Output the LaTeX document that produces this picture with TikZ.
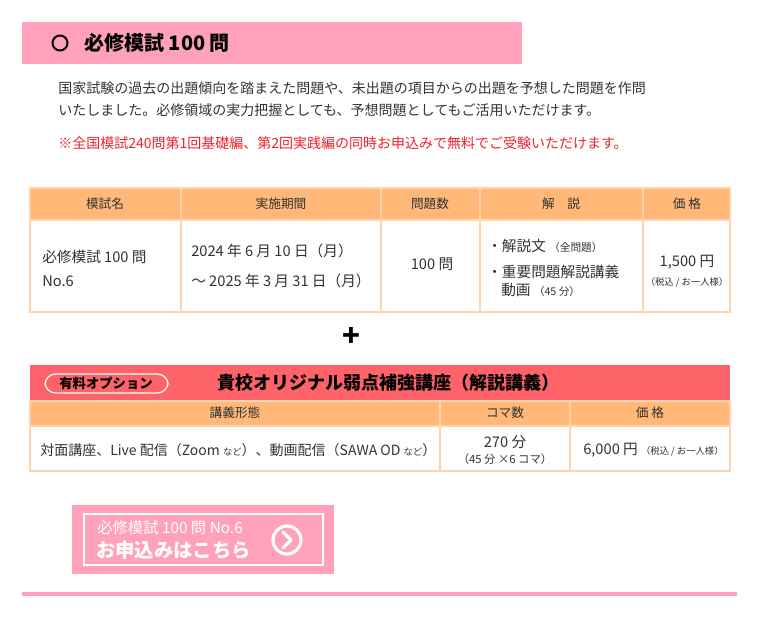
\documentclass[tikz,border=0pt]{standalone}
\usepackage{fontspec}
\setmainfont{Noto Sans CJK JP}
\definecolor{pinkc}{HTML}{FFA1BA}
\definecolor{orng}{HTML}{FFB877}
\definecolor{obord}{HTML}{FFD3AD}
\definecolor{redb}{HTML}{FF636A}
\definecolor{redt}{HTML}{F0202A}
\definecolor{txt}{HTML}{333333}
\tikzset{
 tx/.style={font=\fontsize{10.5}{13}\selectfont, text=txt, inner sep=0pt},
 th/.style={font=\fontsize{9.5}{12}\selectfont, text=txt, inner sep=0pt},
 sm/.style={font=\fontsize{7}{8}\selectfont, text=txt, inner sep=0pt},
 hd/.style={fill=orng, draw=obord, line width=1pt},
 bd/.style={fill=white, draw=obord, line width=1pt},
}
\begin{document}
\begin{tikzpicture}[x=0.75pt,y=-0.75pt]
\useasboundingbox (0,0) rectangle (760,642);
% header
\fill[pinkc] (22,22) rectangle (522,64);
\draw[black, line width=1.5pt] (60,43) circle (7.5);
\node[anchor=west, inner sep=0pt, font=\fontsize{15}{17}\selectfont\bfseries] (ttl) at (84,43) {必修模試 100 問};
\node[tx, anchor=west] (p1) at (58,88) {国家試験の過去の出題傾向を踏まえた問題や、未出題の項目からの出題を予想した問題を作問};
\node[tx, anchor=west] (p2) at (58,110) {いたしました。必修領域の実力把握としても、予想問題としてもご活用いただけます。};
\node[tx, anchor=west, text=redt] (p3) at (58,143) {※全国模試240問第1回基礎編、第2回実践編の同時お申込みで無料でご受験いただけます。};
% table1
\foreach \a/\b in {30/181,181/381,381/480,480/643,643/730}{
 \draw[hd] (\a,188) rectangle (\b,220);
 \draw[bd] (\a,220) rectangle (\b,312);}
\node[th] (h1) at (105,204) {模試名};
\node[th] (h2) at (281,204) {実施期間};
\node[th] (h3) at (430,204) {問題数};
\node[th] (h4) at (561,204) {解\quad 説};
\node[th] (h5) at (687,204) {価\ 格};
\node[tx, anchor=west, align=left, font=\fontsize{11}{18}\selectfont] (c1) at (42,268) {必修模試 100 問\\No.6};
\node[tx, anchor=west, align=left, font=\fontsize{11}{22}\selectfont] (c2) at (191,266) {2024 年 6 月 10 日（月）\\～ 2025 年 3 月 31 日（月）};
\node[tx, font=\fontsize{11}{13}\selectfont] (c3) at (432,264) {100 問};
\node[tx, anchor=west, font=\fontsize{11}{13}\selectfont] (c4a) at (487,246) {・解説文 {\fontsize{8}{9}\selectfont（全問題）}};
\node[tx, anchor=west, font=\fontsize{11}{13}\selectfont] (c4b) at (487,272) {・重要問題解説講義};
\node[tx, anchor=west, font=\fontsize{11}{13}\selectfont] (c4c) at (501,290) {動画 {\fontsize{8}{9}\selectfont（45 分）}};
\node[tx, font=\fontsize{11}{13}\selectfont] (c5) at (687,262) {1,500 円};
\node[sm] (c5b) at (687,282) {（税込 / お一人様）};
% plus
\node[font=\fontsize{22}{22}\selectfont\bfseries, inner sep=0pt] (plus) at (351,337) {+};
% band
\fill[redb] (30,365) rectangle (730,401);
\draw[white, line width=0.9pt, rounded corners=8pt] (45,374) rectangle (168,393);
\node[font=\fontsize{10}{11}\selectfont\bfseries, inner sep=0pt] (opt) at (106,383) {有料オプション};
\node[font=\fontsize{13.5}{15}\selectfont\bfseries, inner sep=0pt] (bt) at (388,383) {貴校オリジナル弱点補強講座（解説講義）};
% table2
\foreach \a/\b in {30/440,440/570,570/730}{
 \draw[hd] (\a,401) rectangle (\b,426);
 \draw[bd] (\a,426) rectangle (\b,471);}
\node[th] (k1) at (235,413) {講義形態};
\node[th] (k2) at (505,413) {コマ数};
\node[th] (k3) at (650,413) {価\ 格};
\node[tx, anchor=west, font=\fontsize{10.5}{13}\selectfont] (d1) at (40,450) {対面講座、Live 配信（Zoom {\fontsize{7}{8}\selectfont など}）、動画配信（SAWA OD {\fontsize{7}{8}\selectfont など}）};
\node[tx, font=\fontsize{11}{13}\selectfont] (d2) at (505,442) {270 分};
\node[tx, font=\fontsize{8.5}{9}\selectfont] (d2b) at (505,459) {（45 分 ×6 コマ）};
\node[tx, anchor=west, font=\fontsize{11}{13}\selectfont] (d3) at (583,450) {6,000 円 {\fontsize{7}{8}\selectfont（税込 / お一人様）}};
% button
\fill[pinkc] (72,505) rectangle (334,574);
\draw[white, line width=2pt] (84,514) rectangle (323,565);
\node[text=white, anchor=west, inner sep=0pt, font=\fontsize{11.5}{13}\selectfont] (b1) at (97,528) {必修模試 100 問 No.6};
\node[text=white, anchor=west, inner sep=0pt, font=\fontsize{14.5}{16}\selectfont\bfseries] (b2) at (96,550) {お申込みはこちら};
\draw[white, line width=2.4pt] (287,540) circle (14);
\draw[white, line width=2.6pt, line cap=round, line join=round] (283,532) -- (291,540) -- (283,548);
% line
\draw[pinkc, line width=3pt] (22,594) -- (737,594);
\end{tikzpicture}
\end{document}
